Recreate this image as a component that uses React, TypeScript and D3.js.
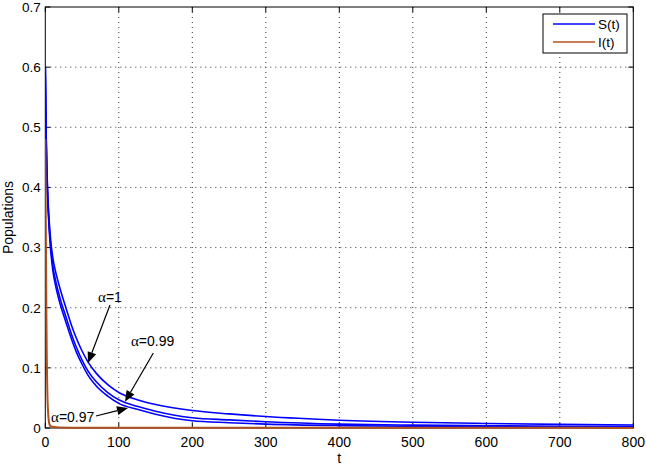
import React from 'react';
import * as d3 from 'd3';

// ---- data ----
const xTicks = [0, 100, 200, 300, 400, 500, 600, 700, 800];
const yTicks = [0, 0.1, 0.2, 0.3, 0.4, 0.5, 0.6, 0.7];
const yTickLabels = ['0', '0.1', '0.2', '0.3', '0.4', '0.5', '0.6', '0.7'];

// S(t), alpha = 1 (upper curve)
const sAlpha1: [number, number][] = [
  [0, 0.6], [1, 0.5], [2, 0.44], [3, 0.4], [5, 0.35], [7.5, 0.31], [10, 0.285], [15, 0.255],
  [20, 0.232], [28, 0.2], [35, 0.173], [42, 0.15], [50, 0.128], [58, 0.11], [70, 0.09],
  [85, 0.072], [100, 0.059], [125, 0.047], [150, 0.039], [200, 0.029], [250, 0.0235],
  [300, 0.019], [400, 0.013], [500, 0.0095], [600, 0.0075], [700, 0.006], [800, 0.005],
];
// S(t), alpha = 0.99 (middle curve)
const sAlpha099: [number, number][] = [
  [0, 0.6], [1, 0.495], [2, 0.434], [3, 0.394], [5, 0.342], [7.5, 0.3], [10, 0.272], [15, 0.24],
  [20, 0.216], [28, 0.185], [35, 0.158], [42, 0.135], [50, 0.113], [58, 0.095], [70, 0.076],
  [85, 0.059], [100, 0.047], [125, 0.036], [150, 0.028], [200, 0.017], [250, 0.0135],
  [300, 0.0105], [400, 0.0065], [500, 0.0048], [600, 0.0038], [700, 0.003], [800, 0.0025],
];
// S(t), alpha = 0.97 (lower curve)
const sAlpha097: [number, number][] = [
  [0, 0.6], [1, 0.49], [2, 0.428], [3, 0.388], [5, 0.335], [7.5, 0.293], [10, 0.264], [15, 0.231],
  [20, 0.207], [28, 0.176], [35, 0.15], [42, 0.127], [50, 0.106], [58, 0.088], [70, 0.069],
  [85, 0.053], [100, 0.041], [125, 0.031], [150, 0.023], [200, 0.012], [250, 0.0088],
  [300, 0.0065], [400, 0.004], [500, 0.0028], [600, 0.0021], [700, 0.0017], [800, 0.0014],
];
// I(t)
const iSeries: [number, number][] = [
  [0, 0.48], [0.5, 0.38], [1, 0.28], [1.5, 0.19], [2, 0.12], [3, 0.05], [4, 0.022], [5, 0.01],
  [6, 0.005], [8, 0.0025], [12, 0.0015], [20, 0.001], [50, 0.0005], [800, 0.0002],
];

const annotations = [
  { label: '1', textT: 71.8, textV: 0.2095, fromT: 88, fromV: 0.2045, toT: 58.1, toV: 0.108 },
  { label: '0.99', textT: 116.6, textV: 0.1363, fromT: 147, fromV: 0.1247, toT: 108.4, toV: 0.0437 },
  { label: '0.97', textT: 7.8, textV: 0.0108, fromT: 69, fromV: 0.02, toT: 112.5, toV: 0.0333 },
];

const legendItems = [
  { label: 'S(t)', color: '#0000ff' },
  { label: 'I(t)', color: '#b0521f' },
];

// ---- layout ----
const W = 646;
const H = 466;
const L = 45.3, R = 633.3, T = 7, B = 428;
const FONT = '"Liberation Sans", Arial, Helvetica, sans-serif';

export default function App() {
  const x = d3.scaleLinear().domain([0, 800]).range([L, R]);
  const y = d3.scaleLinear().domain([0, 0.7]).range([B, T]);
  const line = d3
    .line<[number, number]>()
    .x((d) => x(d[0]))
    .y((d) => y(d[1]))
    .curve(d3.curveMonotoneX);

  const blue = '#0000ff';
  const brown = '#b0521f';
  const tickLen = 5;

  const arrow = (a: typeof annotations[number], i: number) => {
    const x1 = x(a.fromT), y1 = y(a.fromV), x2 = x(a.toT), y2 = y(a.toV);
    const dx = x2 - x1, dy = y2 - y1;
    const len = Math.hypot(dx, dy);
    const ux = dx / len, uy = dy / len;
    const hl = 11, hw = 4.5;
    const bx = x2 - ux * hl, by = y2 - uy * hl;
    const p1 = [bx - uy * hw, by + ux * hw];
    const p2 = [bx + uy * hw, by - ux * hw];
    return (
      <g key={'arr' + i}>
        <line x1={x1} y1={y1} x2={bx} y2={by} stroke="#000" strokeWidth={1.2} />
        <polygon points={`${x2},${y2} ${p1[0]},${p1[1]} ${p2[0]},${p2[1]}`} fill="#000" />
        <text x={x(a.textT)} y={y(a.textV)} fontFamily={FONT} fontSize={14} fill="#000">
          <tspan fontFamily='"Liberation Serif", "DejaVu Serif", serif' fontSize={15}>α</tspan>={a.label}
        </text>
      </g>
    );
  };

  return (
    <svg width={W} height={H} style={{ position: 'absolute', left: 0, top: 0, background: '#fff' }}>
      <defs>
        <clipPath id="plotClip">
          <rect x={L} y={T} width={R - L} height={B - T + 2} />
        </clipPath>
      </defs>
      <rect x={0} y={0} width={W} height={H} fill="#fff" />
      {/* grid */}
      <g stroke="#333" strokeWidth={1} strokeDasharray="1 4">
        {xTicks.slice(1, -1).map((t) => (
          <line key={'gx' + t} x1={x(t)} x2={x(t)} y1={T} y2={B} />
        ))}
        {yTicks.slice(1, -1).map((v) => (
          <line key={'gy' + v} x1={L} x2={R} y1={y(v)} y2={y(v)} />
        ))}
      </g>
      {/* box */}
      <rect x={L} y={T} width={R - L} height={B - T} fill="none" stroke="#000" strokeWidth={1} />
      {/* ticks */}
      <g stroke="#000" strokeWidth={1}>
        {xTicks.map((t) => (
          <g key={'tx' + t}>
            <line x1={x(t)} x2={x(t)} y1={B} y2={B - tickLen} />
            <line x1={x(t)} x2={x(t)} y1={T} y2={T + tickLen} />
          </g>
        ))}
        {yTicks.map((v) => (
          <g key={'ty' + v}>
            <line x1={L} x2={L + tickLen} y1={y(v)} y2={y(v)} />
            <line x1={R} x2={R - tickLen} y1={y(v)} y2={y(v)} />
          </g>
        ))}
      </g>
      {/* tick labels */}
      <g fontFamily={FONT} fontSize={14} fill="#000">
        {xTicks.map((t) => (
          <text key={'lx' + t} x={x(t)} y={B + 19} textAnchor="middle">
            {t}
          </text>
        ))}
        {yTicks.map((v, i) => (
          <text key={'ly' + v} x={L - 4.5} y={y(v)} dy="0.36em" textAnchor="end" fontSize={13.5}>
            {yTickLabels[i]}
          </text>
        ))}
        <text x={x(400)} y={463} textAnchor="middle">t</text>
        <text transform={`translate(13,${(T + B) / 2}) rotate(-90)`} textAnchor="middle">
          Populations
        </text>
      </g>
      {/* data */}
      <g clipPath="url(#plotClip)" fill="none" strokeLinejoin="round">
        <path d={line(sAlpha1) || ''} stroke={blue} strokeWidth={1.6} />
        <path d={line(sAlpha099) || ''} stroke={blue} strokeWidth={1.6} />
        <path d={line(sAlpha097) || ''} stroke={blue} strokeWidth={1.6} />
        <path d={line(iSeries) || ''} stroke={brown} strokeWidth={2} />
      </g>
      {/* annotations */}
      {annotations.map(arrow)}
      {/* legend */}
      <g>
        <rect x={543} y={14} width={84} height={39} fill="#fff" stroke="#000" strokeWidth={1} />
        {legendItems.map((it, i) => (
          <g key={it.label}>
            <line x1={553} x2={595} y1={24 + i * 18} y2={24 + i * 18} stroke={it.color} strokeWidth={1.5} />
            <text x={598} y={24 + i * 18} dy="0.36em" fontFamily={FONT} fontSize={13.5} fill="#000">
              {it.label}
            </text>
          </g>
        ))}
      </g>
    </svg>
  );
}
